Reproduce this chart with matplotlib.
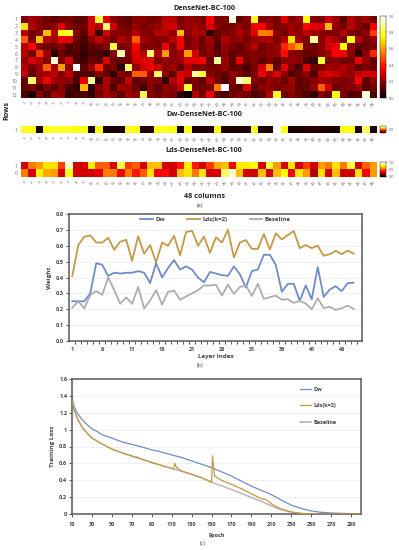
import matplotlib
matplotlib.use("Agg")
import matplotlib.pyplot as plt
import numpy as np

W, H = 399, 550
plt.rcParams['font.family'] = ['Open Sans', 'DejaVu Sans']

# heatmap (a), values in percent
dense_rows = [
    [17,23,19,15,13,15,17,13,13,30,80,32,19,15,13,19,19,15,17,26,26,17,21,19,17,36,17,17,98,13,19,78,17,19,17,32,19,21,76,19,17,28,21,13,25,19,23,15],
    [70,25,19,17,19,32,19,15,15,30,25,85,30,17,15,21,17,19,21,28,30,19,21,23,19,32,19,15,17,21,17,34,36,23,17,19,23,19,36,32,32,65,21,17,26,19,15,34],
    [26,15,19,65,25,75,80,19,13,30,6,30,19,19,17,25,19,17,26,26,21,65,19,25,23,6,15,17,19,25,19,32,56,54,21,15,23,21,25,23,19,17,17,26,17,15,19,45],
    [50,17,65,26,23,34,32,15,10,19,28,21,15,25,21,50,23,19,17,19,26,34,17,21,15,23,13,25,19,21,17,21,23,25,17,26,70,23,17,90,19,28,23,17,78,25,17,21],
    [25,36,19,15,15,19,10,13,8,13,15,19,80,17,19,36,17,19,17,34,19,34,17,21,15,21,10,21,17,13,19,26,15,19,21,42,50,60,17,15,19,30,34,75,19,13,15,17],
    [26,15,45,23,5,15,10,10,6,10,10,5,19,92,19,32,25,85,25,60,19,23,60,30,15,19,13,19,13,15,17,19,17,19,21,38,19,17,13,15,19,23,36,34,19,6,19,42],
    [21,30,26,19,95,17,30,10,8,15,13,32,15,13,15,30,32,32,17,21,19,21,32,32,36,15,90,21,13,34,15,19,13,19,13,19,21,19,10,6,80,17,19,15,17,34,21,13],
    [26,17,23,50,23,60,19,100,13,21,42,15,17,6,85,21,30,34,28,19,23,13,25,17,19,15,17,21,13,15,10,17,30,55,13,32,17,10,32,15,19,23,21,25,21,13,17,15],
    [28,13,21,23,26,17,28,13,10,10,19,13,6,19,15,50,50,21,85,19,13,32,28,90,80,19,15,13,21,17,13,17,34,23,32,19,10,15,21,10,28,32,28,23,21,28,30,30],
    [13,85,23,34,23,21,19,10,34,90,6,25,15,13,28,13,15,19,19,6,25,32,15,17,13,26,17,10,19,95,85,19,15,21,19,15,23,13,15,19,23,21,19,17,19,36,13,21],
    [13,17,10,17,13,19,10,6,65,6,19,23,10,23,21,15,8,19,13,19,19,28,80,17,15,17,55,100,15,13,32,13,19,21,17,19,21,13,13,21,50,30,15,17,19,21,13,15],
    [10,3,19,10,23,21,6,10,10,6,17,23,19,13,23,19,82,19,15,19,17,6,0,25,15,34,13,10,15,17,15,10,13,25,78,15,19,15,10,6,19,13,75,17,10,13,96,10],
]
dw_row = [78,76,2,76,80,78,78,76,76,2,76,2,2,2,76,76,3,5,76,78,76,2,76,2,3,3,76,3,3,4,3,76,2,3,100,76,3,3,4,5,4,3,2,76,76,2,84,2]
lds_top = [30,55,60,70,70,45,95,30,30,72,50,50,30,80,45,50,30,65,65,30,30,40,72,40,30,45,62,65,35,72,72,75,30,80,60,30,70,30,45,30,60,55,70,55,80,30,50,60]
lds_bottom = [55,30,72,62,60,30,75,30,30,30,33,55,55,35,55,40,50,70,35,38,30,65,70,55,70,30,30,85,95,65,30,30,65,30,65,75,35,70,60,25,70,30,65,30,30,70,35,60]

# chart (b)
layers = list(range(1, 49))
dw_weight = [.25,.25,.25,.30,.49,.48,.41,.43,.425,.43,.43,.44,.43,.365,.49,.40,.46,.51,.45,.47,.45,.40,.37,.435,.425,.415,.41,.47,.42,.337,.44,.45,.543,.543,.48,.31,.36,.36,.253,.35,.263,.465,.278,.324,.345,.314,.364,.368]
lds_weight = [.41,.604,.657,.665,.62,.62,.65,.575,.625,.638,.505,.66,.55,.604,.495,.62,.60,.663,.54,.686,.695,.60,.657,.556,.653,.62,.70,.526,.62,.636,.58,.58,.674,.577,.678,.64,.667,.693,.585,.604,.585,.60,.537,.547,.568,.547,.57,.55]
base_weight = [.21,.25,.205,.29,.315,.29,.40,.32,.235,.275,.235,.34,.205,.255,.32,.23,.31,.318,.26,.28,.30,.32,.35,.35,.354,.286,.355,.297,.34,.35,.284,.36,.265,.276,.286,.26,.263,.24,.253,.236,.20,.27,.208,.215,.196,.206,.223,.202]

# chart (c)
dw_epoch = [10,12,15,20,25,30,35,40,50,60,70,80,90,100,110,120,130,140,150,160,170,180,190,200,210,220,230,240,250,260,270,280,290,300]
dw_loss = [1.38,1.28,1.2,1.12,1.06,1.01,.98,.94,.90,.855,.825,.795,.76,.735,.70,.67,.63,.59,.55,.50,.45,.39,.33,.28,.23,.165,.105,.065,.037,.02,.012,.007,.005,.004]
base_epoch = [10,12,15,20,25,30,40,50,60,70,80,90,100,110,120,130,140,150,160,170,180,190,200,210,220,230,240,250,260,300]
base_loss = [1.35,1.24,1.14,1.03,.96,.90,.83,.77,.725,.685,.65,.61,.575,.54,.505,.47,.43,.375,.335,.29,.245,.195,.15,.095,.05,.02,.005,.002,0,0]
lds_epoch = [10,12,15,20,25,30,40,50,60,70,74,75,76,80,90,100,110,112,113,115,118,120,130,140,150,151,153,160,170,180,190,200,205,210,220,230,240,250,260,300]
lds_loss = [1.35,1.24,1.14,1.03,.96,.90,.83,.77,.725,.69,.67,.68,.665,.65,.61,.575,.54,.535,.60,.55,.525,.51,.47,.43,.38,.69,.45,.40,.35,.30,.24,.18,.17,.12,.06,.025,.007,.002,0,0]

gray = '#595959'
blue = '#6f8cc9'
gold = '#c49a45'
silver = '#adadad'
pink_gray = '#7a6270'


def box(l, t, r, b):
    return [l / W, 1 - b / H, (r - l) / W, (b - t) / H]


def heat(matrix, top, bottom, ylabels, cb_ticks):
    ax = fig.add_axes(box(21, top, 377, bottom))
    im = ax.imshow(np.array(matrix) / 100, cmap='hot', vmin=0, vmax=1, aspect='auto')
    ax.set_xticks(range(48))
    ax.set_xticklabels(range(1, 49), rotation=45, fontsize=3.2, color=pink_gray)
    ax.set_yticks(range(len(ylabels)))
    ax.set_yticklabels(ylabels, fontsize=3.6, color=pink_gray)
    ax.tick_params(length=0, pad=2.5)
    for s in ax.spines.values():
        s.set_visible(False)
    cax = fig.add_axes(box(380, top, 386, bottom))
    cb = fig.colorbar(im, cax=cax, ticks=cb_ticks)
    cb.ax.tick_params(labelsize=2.8, length=1, width=0.3, pad=1, labelcolor='#555555')
    cb.outline.set_linewidth(0.3)
    return ax


fig = plt.figure(figsize=(W / 100, H / 100), dpi=100)

heat(dense_rows, 16, 98, list(range(1, 13)), [0, .2, .4, .6, .8, 1])
heat([dw_row], 126, 133, [1], [.5])
heat([lds_top, lds_bottom], 162, 177, [1, 0], [0, .5, 1])


def label(x, y, s, size=5.2, **kw):
    fig.text(x / W, 1 - y / H, s, fontsize=size, ha='center', va='center', **kw)


label(204, 8, 'DenseNet-BC-100', weight='bold', color='#222222')
label(204, 115, 'Dw-DenseNet-BC-100', weight='bold', color='#222222')
label(204, 151, 'Lds-DenseNet-BC-100', weight='bold', color='#222222')
label(204, 196, '48 columns', weight='bold', color='#222222')
label(7, 110, 'Rows', rotation=90, weight='bold', color='#222222')
label(200, 205, '(a)', size=4, color='#444444')
label(200, 366, '(b)', size=4, color='#444444')
label(203, 543, '(c)', size=4, color='#444444')


def style(ax):
    for s in ax.spines.values():
        s.set_color(gray)
        s.set_linewidth(1.1)
    ax.grid(axis='y', color='#eeeeee', linewidth=0.6)
    ax.set_axisbelow(True)
    ax.tick_params(axis='both', which='both', length=2, width=0.7, color=gray, labelsize=4, labelcolor='#404040', pad=1.5)
    for t in ax.get_xticklabels() + ax.get_yticklabels():
        t.set_fontweight('bold')


# chart (b)
ax = fig.add_axes(box(69, 214, 362, 341))
ax.plot(layers, dw_weight, color=blue, lw=1.3, label='Dw')
ax.plot(layers, lds_weight, color=gold, lw=1.3, label='Lds(k=2)')
ax.plot(layers, base_weight, color=silver, lw=1.3, label='Baseline')
ax.set_xlim(0.45, 49.4)
ax.set_ylim(0, 0.8)
ax.set_xticks(layers[::5])
ax.set_xticks(np.array(layers) + 0.5, minor=True)
ax.set_yticks(np.arange(0, 0.81, 0.1))
style(ax)
ax.tick_params(axis='x', which='major', length=0, pad=4)
ax.set_xlabel('Layer Index', fontsize=4.4, weight='bold', color='#404040', labelpad=2)
ax.set_ylabel('Weight', fontsize=4.6, weight='bold', color='#404040', labelpad=3)
leg = ax.legend(loc='upper center', bbox_to_anchor=(0.5, 1.015), ncol=3, frameon=False, fontsize=4.4,
                handlelength=2.1, columnspacing=3.6, handletextpad=0.4, borderaxespad=0.3)
for t in leg.get_texts():
    t.set_fontweight('bold')
    t.set_color('#404040')

# chart (c)
ax = fig.add_axes(box(72, 379, 361, 514))
ax.plot(dw_epoch, dw_loss, color=blue, lw=0.9, label='Dw')
ax.plot(base_epoch, base_loss, color='#c4b4b4', lw=1.1, zorder=2)
ax.plot(lds_epoch, lds_loss, color=gold, lw=0.9, label='Lds(k=2)', zorder=3)
ax.plot([], [], color=silver, lw=1.1, label='Baseline')
ax.set_xlim(10, 300)
ax.set_ylim(0, 1.6)
ax.set_xticks(np.arange(10, 300, 20))
ax.set_yticks(np.arange(0, 1.61, 0.2))
ax.set_yticklabels(['0', '0.2', '0.4', '0.6', '0.8', '1', '1.2', '1.4', '1.6'])
style(ax)
ax.tick_params(axis='x', pad=4)
ax.set_xlabel('Epoch', fontsize=4, weight='bold', color='#404040', labelpad=4)
ax.set_ylabel('Training Loss', fontsize=4.6, weight='bold', color='#404040', labelpad=3)
leg = ax.legend(loc='upper right', bbox_to_anchor=(0.925, 0.955), frameon=False, fontsize=4,
                handlelength=2.0, labelspacing=2.0, handletextpad=0.5, borderaxespad=0)
for t in leg.get_texts():
    t.set_fontweight('bold')
    t.set_color('#404040')

fig.savefig('out.png', dpi=100)
